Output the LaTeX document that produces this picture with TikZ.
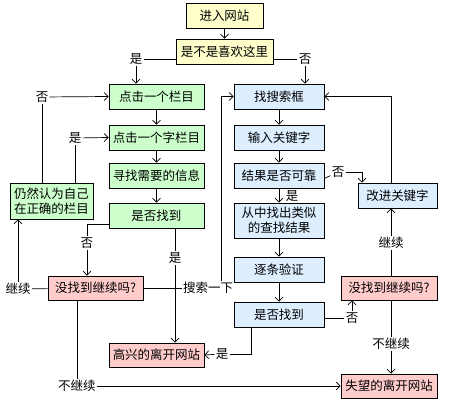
\documentclass[tikz,border=0pt]{standalone}
\usepackage{fontspec}
\newfontfamily\cjk{Noto Sans CJK SC}
\usetikzlibrary{arrows.meta}
\definecolor{boxyellow}{HTML}{FFFFCC}
\definecolor{boxgreen}{HTML}{CCFFCC}
\definecolor{boxblue}{HTML}{DDEEFF}
\definecolor{boxpink}{HTML}{FFCCCC}
\begin{document}
\begin{tikzpicture}[x=1pt,y=-1pt,line width=0.7pt,>={Straight Barb[length=4pt,width=8pt]},
    font=\cjk\fontsize{12.5}{15}\selectfont]
    \tikzstyle{unit}=[draw,inner sep=0,minimum height=25,align=center]
    \tikzstyle{enter}=[unit,fill=boxyellow]
    \tikzstyle{col}=[unit,fill=boxgreen,minimum width=95]
    \tikzstyle{srch}=[unit,fill=boxblue,minimum width=90]
    \tikzstyle{quit}=[unit,fill=boxpink,minimum height=24]
    \tikzstyle{lbl}=[inner sep=1pt]

    \useasboundingbox (0,0) rectangle (451,401);

    \node[enter,minimum width=77](start) at (224.5,15.5){进入网站};
    \node[enter,minimum width=97](like) at (224.5,51.5){是不是喜欢这里};

    \node[col](click) at (156.5,96.5){点击一个栏目};
    \node[col](sub) at (156.5,137.5){点击一个字栏目};
    \node[col](seek) at (156.5,175.5){寻找需要的信息};
    \node[col](founda) at (156.5,215.5){是否找到};
    \node[col,minimum width=83,minimum height=36](still) at (51.5,201){仍然认为自己\\在正确的栏目};

    \node[srch](box) at (279,96.5){找搜索框};
    \node[srch](key) at (279,137.5){输入关键字};
    \node[srch](sure) at (279,175.5){结果是否可靠};
    \node[srch,minimum height=35](alike) at (279,220.5){从中找出类似\\的查找结果};
    \node[srch](check) at (279,269.5){逐条验证};
    \node[srch](foundb) at (279,314.5){是否找到};
    \node[srch,minimum width=79](better) at (397.5,195.5){改进关键字};

    \node[quit,minimum width=95](againa) at (95.5,288){没找到继续吗?};
    \node[quit,minimum width=96](againb) at (389,288){没找到继续吗?};
    \node[quit,minimum width=95](happy) at (156.5,355){高兴的离开网站};
    \node[quit,minimum width=96](sad) at (389,386){失望的离开网站};

    \node[lbl](y1) at (136,59){是};
    \node[lbl](n1) at (305,59){否};
    \node[lbl](n2) at (42,97){否};
    \node[lbl](y2) at (75,138){是};
    \node[lbl](n3) at (87,243){否};
    \node[lbl](y3) at (175,258){是};
    \node[lbl](c1) at (18,289){继续};
    \node[lbl](go) at (208,288){搜索一下};
    \node[lbl](nc1) at (77,386){不继续};
    \node[lbl](y4) at (292,196){是};
    \node[lbl](n4) at (338,172){否};
    \node[lbl](c2) at (391,243){继续};
    \node[lbl](n5) at (352,318){否};
    \node[lbl](y5) at (222,354){是};
    \node[lbl](nc2) at (391,344){不继续};

    \draw [->] (start) -- (like);
    \draw (y1.east) -- (y1.east -| like.west);
    \draw [->] (y1.south) -- (y1 |- click.north);
    \draw (n1.west) -- (n1.west -| like.east);
    \draw [->] (n1.south) -- (n1 |- box.north);

    \draw (still.north -| n2) -- (n2.south);
    \draw [->] (n2) -- (click.west);
    \draw (still.north -| y2) -- (y2.south);
    \draw [->] (y2) -- (sub.west);
    \draw [->] (click) -- (sub);
    \draw [->] (sub) -- (seek);
    \draw [->] (seek) -- (founda);
    \draw ([yshift=-9pt]founda.west) -| (n3.north);
    \draw [->] (n3) -- (n3 |- againa.north);
    \draw (founda.south -| y3) -- (y3.north);
    \draw [->] (y3) -- (y3 |- happy.north);

    \draw (againa) -- (c1);
    \draw [->] (c1.north) -- (c1 |- still.south);
    \draw (againa) -- (go);
    \draw [->] ([xshift=13pt]go.north) |- (box.west);
    \draw (againa.south -| nc1) -- (nc1.north);
    \draw [->] (nc1) -- (sad.west);

    \draw [->] (box) -- (key);
    \draw [->] (key) -- (sure);
    \draw [->] (sure) -- (alike);
    \draw [->] (alike) -- (check);
    \draw [->] (check) -- (foundb);
    \draw ([yshift=-3pt]sure.east) -- (n4);
    \draw [->] (n4.east) -| ([xshift=-35.5pt]better.north);
    \draw [->] ([xshift=-6.5pt]better.north) |- (box.east);
    \draw (c2) -- (c2 |- againb.north);
    \draw [->] (c2) -- (c2 |- better.south);
    \draw ([yshift=-3.5pt]foundb.east) -- (n5);
    \draw [->] (n5.north) -- (n5 |- againb.south);
    \draw ([xshift=-28pt]foundb.south) |- (y5);
    \draw [->] (y5) -- (happy.east);
    \draw (nc2 |- againb.south) -- (nc2);
    \draw [->] (nc2) -- (nc2 |- sad.north);
  \end{tikzpicture}
\end{document}
